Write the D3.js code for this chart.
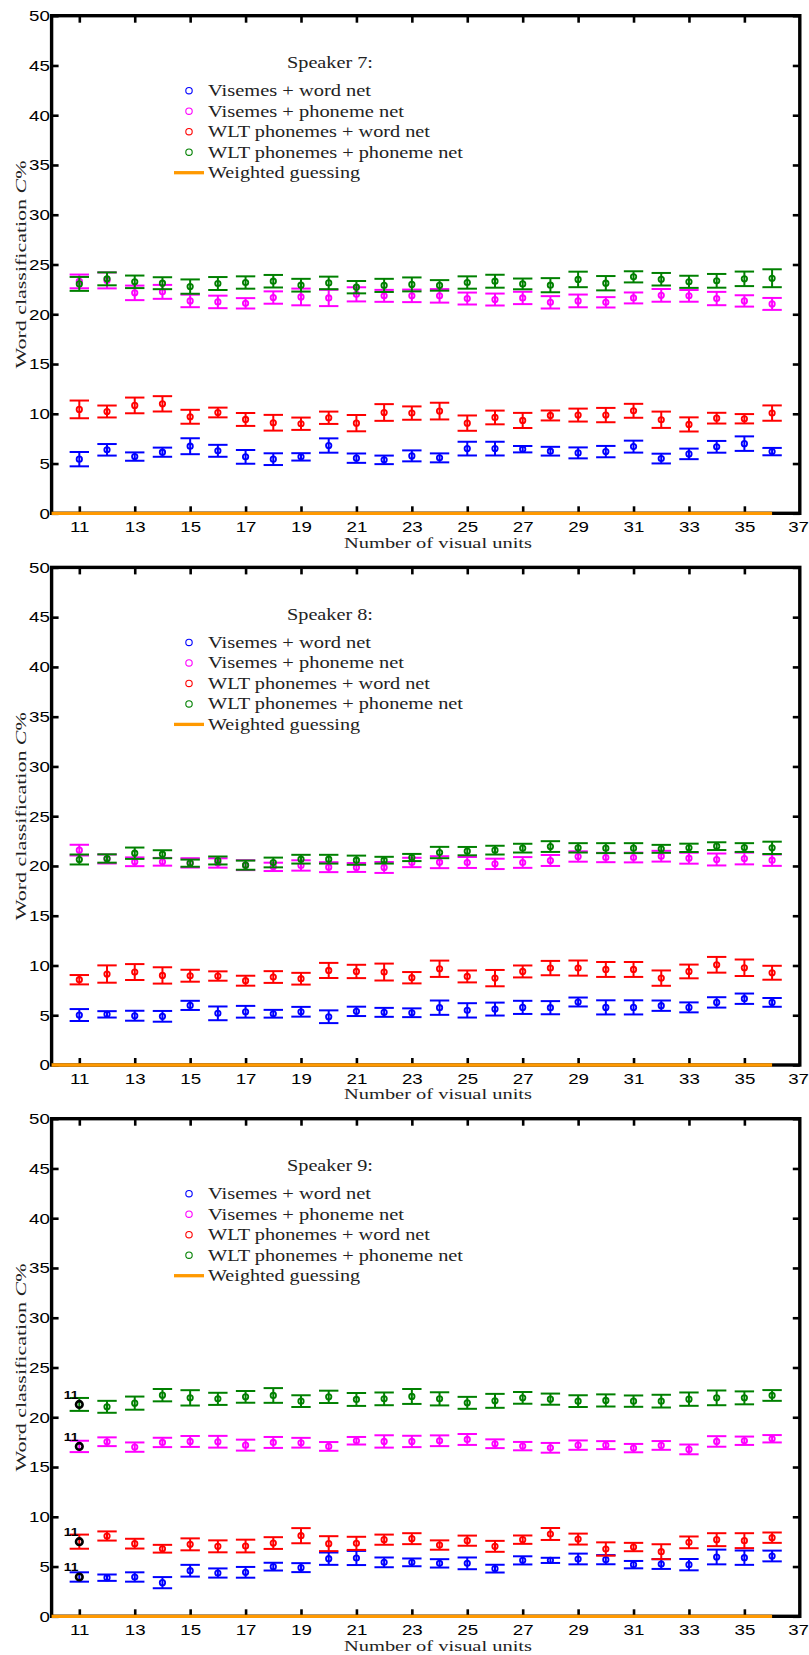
<!DOCTYPE html>
<html><head><meta charset="utf-8">
<script src="https://cdn.jsdelivr.net/npm/d3@7/dist/d3.min.js"></script>
<style>
body{margin:0;background:#fff}
.tick text{font-family:"Liberation Sans",Arial,sans-serif;font-size:15px;fill:#000}
</style>
</head><body>
<svg id="chart" width="809" height="1655"></svg>
<script>
// ---------- data ----------
const units = [11,12,13,14,15,16,17,18,19,20,21,22,23,24,25,26,27,28,29,30,31,32,33,34,35,36];
const xTickLabels = [11,13,15,17,19,21,23,25,27,29,31,33,35,37];
const yTickLabels = [0,5,10,15,20,25,30,35,40,45,50];
const seriesNames = ["Visemes + word net","Visemes + phoneme net","WLT phonemes + word net","WLT phonemes + phoneme net"];
const guessName = "Weighted guessing";
const speakerTitles = ["Speaker 7:","Speaker 8:","Speaker 9:"];
const xLabel = "Number of visual units";
const guessUnits = [10, 36];

// Speaker 7
const s7VisWord      = [5.44,6.38,5.70,6.14,6.74,6.28,5.67,5.44,5.67,6.81,5.54,5.37,5.77,5.57,6.50,6.50,6.44,6.24,6.07,6.20,6.70,5.50,5.97,6.68,7.00,6.20];
const s7VisWordErr   = [0.72,0.58,0.42,0.46,0.80,0.60,0.69,0.59,0.37,0.72,0.47,0.43,0.55,0.45,0.69,0.69,0.32,0.44,0.55,0.57,0.60,0.49,0.53,0.59,0.73,0.37];
const s7VisPhon      = [23.30,23.40,22.15,22.25,21.34,21.24,21.10,21.68,21.74,21.64,22.00,21.85,21.85,21.85,21.58,21.48,21.64,21.20,21.34,21.20,21.64,21.90,21.85,21.58,21.34,21.04];
const s7VisPhonErr   = [0.69,0.80,0.73,0.70,0.63,0.63,0.52,0.62,0.84,0.82,0.71,0.60,0.63,0.68,0.60,0.60,0.62,0.62,0.64,0.52,0.55,0.64,0.59,0.67,0.57,0.60];
const s7WltWord      = [10.44,10.23,10.84,11.00,9.70,10.13,9.43,9.10,9.00,9.60,9.06,10.13,10.07,10.27,9.06,9.63,9.33,9.83,9.87,9.87,10.30,9.40,8.93,9.56,9.50,10.07];
const s7WltWordErr   = [0.89,0.60,0.79,0.77,0.70,0.49,0.65,0.79,0.62,0.62,0.82,0.84,0.67,0.84,0.77,0.69,0.76,0.50,0.65,0.72,0.70,0.82,0.71,0.54,0.47,0.77];
const s7WltPhon      = [23.05,23.56,23.26,23.12,22.78,23.09,23.19,23.32,22.92,23.15,22.72,22.90,23.00,22.90,23.19,23.32,23.05,22.92,23.50,23.12,23.76,23.52,23.26,23.36,23.56,23.62];
const s7WltPhonErr   = [0.70,0.65,0.63,0.60,0.72,0.65,0.62,0.63,0.64,0.63,0.62,0.66,0.70,0.53,0.62,0.65,0.54,0.71,0.78,0.72,0.56,0.63,0.61,0.69,0.73,0.90];
const s7Guess        = [0, 0];

// Speaker 8
const s8VisWord      = [5.02,5.09,4.95,4.89,5.99,5.19,5.35,5.15,5.35,4.85,5.39,5.29,5.25,5.76,5.49,5.62,5.79,5.76,6.33,5.79,5.79,5.96,5.79,6.29,6.66,6.29];
const s8VisWordErr   = [0.60,0.32,0.50,0.54,0.46,0.69,0.59,0.39,0.49,0.64,0.47,0.45,0.44,0.72,0.72,0.65,0.66,0.66,0.45,0.71,0.71,0.52,0.50,0.52,0.52,0.44];
const s8VisPhon      = [21.59,20.70,20.42,20.42,20.31,20.30,20.08,19.91,20.05,19.88,19.85,19.85,20.35,20.38,20.35,20.21,20.35,20.55,20.95,20.85,20.85,20.98,20.78,20.65,20.75,20.58];
const s8VisPhonErr   = [0.54,0.45,0.44,0.39,0.47,0.47,0.50,0.42,0.52,0.50,0.45,0.55,0.47,0.60,0.55,0.52,0.54,0.55,0.52,0.47,0.49,0.54,0.55,0.60,0.59,0.57];
const s8WltWord      = [8.57,9.14,9.34,9.00,8.97,8.94,8.47,8.84,8.67,9.50,9.40,9.34,8.77,9.67,8.90,8.73,9.40,9.74,9.74,9.60,9.60,8.73,9.40,10.07,9.77,9.27];
const s8WltWordErr   = [0.47,0.87,0.80,0.82,0.60,0.47,0.50,0.59,0.59,0.76,0.67,0.85,0.57,0.82,0.60,0.82,0.60,0.72,0.76,0.75,0.75,0.77,0.69,0.79,0.83,0.70];
const s8WltPhon      = [20.65,20.75,21.28,21.18,20.28,20.55,20.08,20.35,20.68,20.68,20.58,20.58,20.85,21.35,21.49,21.59,21.79,21.95,21.82,21.79,21.79,21.72,21.82,21.99,21.85,21.82];
const s8WltPhonErr   = [0.50,0.42,0.57,0.40,0.36,0.40,0.46,0.49,0.44,0.44,0.46,0.34,0.36,0.57,0.42,0.44,0.44,0.54,0.47,0.50,0.50,0.40,0.42,0.39,0.44,0.62];
const s8Guess        = [0, 0];

// Speaker 9
const s9VisWord      = [3.95,3.88,3.95,3.38,4.58,4.35,4.42,4.99,4.89,5.79,5.86,5.42,5.42,5.32,5.32,4.79,5.62,5.62,5.76,5.69,5.19,5.25,5.19,5.96,5.89,6.06];
const s9VisWordErr   = [0.47,0.32,0.47,0.56,0.59,0.46,0.54,0.39,0.45,0.62,0.71,0.49,0.39,0.42,0.59,0.39,0.41,0.26,0.54,0.46,0.37,0.49,0.57,0.74,0.72,0.54];
const s9VisPhon      = [17.07,17.54,17.00,17.47,17.57,17.54,17.20,17.47,17.44,17.07,17.64,17.57,17.57,17.64,17.77,17.34,17.10,16.93,17.20,17.20,16.90,17.17,16.77,17.57,17.64,17.84];
const s9VisPhonErr   = [0.57,0.44,0.47,0.47,0.55,0.59,0.55,0.55,0.49,0.44,0.38,0.62,0.57,0.54,0.55,0.44,0.42,0.49,0.47,0.40,0.42,0.44,0.49,0.53,0.42,0.37];
const s9WltWord      = [7.50,8.07,7.30,6.79,7.23,7.03,7.06,7.36,8.10,7.30,7.33,7.70,7.80,7.16,7.60,7.03,7.70,8.27,7.76,6.76,6.96,6.49,7.43,7.70,7.60,7.90];
const s9WltWordErr   = [0.71,0.46,0.49,0.39,0.60,0.60,0.64,0.59,0.76,0.75,0.66,0.51,0.55,0.47,0.51,0.55,0.42,0.60,0.55,0.67,0.42,0.75,0.59,0.65,0.75,0.52];
const s9WltPhon      = [21.29,21.05,21.42,22.22,21.95,21.85,22.05,22.19,21.62,22.05,21.79,21.85,22.09,21.85,21.45,21.65,21.95,21.82,21.62,21.69,21.62,21.62,21.82,21.95,21.95,22.19];
const s9WltPhonErr   = [0.65,0.60,0.66,0.62,0.77,0.61,0.59,0.74,0.59,0.62,0.65,0.64,0.75,0.66,0.60,0.70,0.59,0.56,0.59,0.61,0.57,0.64,0.67,0.74,0.65,0.54];
const s9Guess        = [0, 0];
const s9MarkedUnit   = 11;
const s9MarkedLabel  = "11";

// ---------- styles ----------
const colors = ["#0000ff","#ff00ff","#ff0000","#008000"];
const guessColor = "#ff9900";
const serif = "Liberation Serif, DejaVu Serif, serif";
const sx = 1.25; // horizontal stretch of the tick labels

const panels = [
  {title: speakerTitles[0], series:[[s7VisWord,s7VisWordErr],[s7VisPhon,s7VisPhonErr],[s7WltWord,s7WltWordErr],[s7WltPhon,s7WltPhonErr]], guess:s7Guess, marked:false},
  {title: speakerTitles[1], series:[[s8VisWord,s8VisWordErr],[s8VisPhon,s8VisPhonErr],[s8WltWord,s8WltWordErr],[s8WltPhon,s8WltPhonErr]], guess:s8Guess, marked:false},
  {title: speakerTitles[2], series:[[s9VisWord,s9VisWordErr],[s9VisPhon,s9VisPhonErr],[s9WltWord,s9WltWordErr],[s9WltPhon,s9WltPhonErr]], guess:s9Guess, marked:true}
];

const svg = d3.select("#chart");
const left = 51.6, right = 799.8, plotH = 497.6;
const tops = [15.7, 567.4, 1118.7];
const x = d3.scaleLinear().domain([10, 37]).range([left, right]);

function serifText(g, px, py, size, len, str) {
  return g.append("text").attr("x", px).attr("y", py)
    .attr("font-family", serif).attr("font-size", size).attr("fill", "#222")
    .attr("textLength", len).attr("lengthAdjust", "spacingAndGlyphs").text(str);
}

panels.forEach((p, pi) => {
  const top = tops[pi], bottom = top + plotH;
  const y = d3.scaleLinear().domain([0, 50]).range([bottom, top]);
  const g = svg.append("g");

  // axes
  const ax = (gen, tr) => {
    const a = g.append("g").attr("transform", tr).call(gen);
    a.select(".domain").remove();
    a.selectAll(".tick line").attr("stroke", "#000").attr("stroke-width", 2.6);
    a.selectAll(".tick text").attr("transform", `scale(${sx},1)`);
    return a;
  };
  ax(d3.axisLeft(y).tickValues(yTickLabels).tickSizeInner(-7).tickSizeOuter(0).tickPadding(1.4), `translate(${left},0)`);
  ax(d3.axisRight(y).tickValues(yTickLabels).tickSizeInner(-7).tickSizeOuter(0).tickFormat(""), `translate(${right},0)`);
  ax(d3.axisTop(x).tickValues(xTickLabels.filter(v => v < 37)).tickSizeInner(-7).tickSizeOuter(0).tickFormat(""), `translate(0,${top})`);
  const bx = ax(d3.axisBottom(x).tickValues(xTickLabels).tickSizeInner(-7).tickSizeOuter(0).tickPadding(8.3), `translate(0,${bottom})`);
  const last = bx.selectAll(".tick").filter(d => d === 37);
  last.select("line").remove();
  // keep the last label inside the page (it sits at the right edge)
  last.select("text").attr("text-anchor", "end").attr("x", (808.5 - x(37)) / sx);

  // frame
  g.append("rect").attr("x", left).attr("y", top).attr("width", right - left).attr("height", plotH)
    .attr("fill", "none").attr("stroke", "#000").attr("stroke-width", 3.4);

  // series
  p.series.forEach(([m, e], si) => {
    const sg = g.append("g").attr("stroke", colors[si]).attr("fill", "none").attr("stroke-width", 2);
    units.forEach((u, i) => {
      const lo = y(m[i] - e[i]), hi = y(m[i] + e[i]);
      sg.append("line").attr("x1", x(u)).attr("x2", x(u)).attr("y1", lo).attr("y2", hi);
      sg.append("line").attr("x1", x(u - 0.35)).attr("x2", x(u + 0.35)).attr("y1", lo).attr("y2", lo);
      sg.append("line").attr("x1", x(u - 0.35)).attr("x2", x(u + 0.35)).attr("y1", hi).attr("y2", hi);
      const marked = p.marked && u === s9MarkedUnit;
      sg.append("circle").attr("cx", x(u)).attr("cy", y(m[i])).attr("r", marked ? 3.3 : 2.7)
        .attr("stroke", marked ? "#000" : colors[si]).attr("stroke-width", marked ? 2.6 : 1.8).attr("fill", "none");
      if (marked) {
        const lx = x(u) - 1, ly = y(m[i]) - 5.5;
        g.append("text").attr("x", 0).attr("y", 0).attr("text-anchor", "end")
          .attr("transform", `translate(${lx},${ly}) scale(${sx},1)`)
          .attr("font-family", "Liberation Sans, Arial, sans-serif").attr("font-weight", "bold")
          .attr("font-size", 11).attr("fill", "#000").text(s9MarkedLabel);
      }
    });
  });

  // weighted guessing
  g.append("line").attr("x1", x(guessUnits[0])).attr("x2", x(guessUnits[1]))
    .attr("y1", y(p.guess[0])).attr("y2", y(p.guess[1]))
    .attr("stroke", guessColor).attr("stroke-width", 3.3);

  // legend
  serifText(g, 287, top + 52.6, 16, 86, p.title);
  const widths = [163, 196, 222, 255];
  seriesNames.forEach((n, i) => {
    const cy = top + 75 + 20.5 * i;
    g.append("circle").attr("cx", 189).attr("cy", cy).attr("r", 3.2)
      .attr("fill", "none").attr("stroke", colors[i]).attr("stroke-width", 1.1);
    serifText(g, 208, cy + 5.5, 16, widths[i], n);
  });
  const gy = top + 75 + 20.5 * 4;
  g.append("line").attr("x1", 174).attr("x2", 204).attr("y1", gy).attr("y2", gy)
    .attr("stroke", guessColor).attr("stroke-width", 3.3);
  serifText(g, 208, gy + 5.5, 16, 152, guessName);

  // axis titles
  serifText(g, 344, bottom + 34.4, 15.5, 188, xLabel);
  const yl = g.append("text").attr("transform", `translate(25.5,${(top + bottom) / 2}) rotate(-90)`)
    .attr("text-anchor", "middle").attr("font-family", serif).attr("font-size", 15).attr("fill", "#222")
    .attr("textLength", 208).attr("lengthAdjust", "spacingAndGlyphs");
  yl.append("tspan").text("Word classification ");
  yl.append("tspan").attr("font-style", "italic").text("C");
  yl.append("tspan").text("%");
});
</script>
</body></html>
